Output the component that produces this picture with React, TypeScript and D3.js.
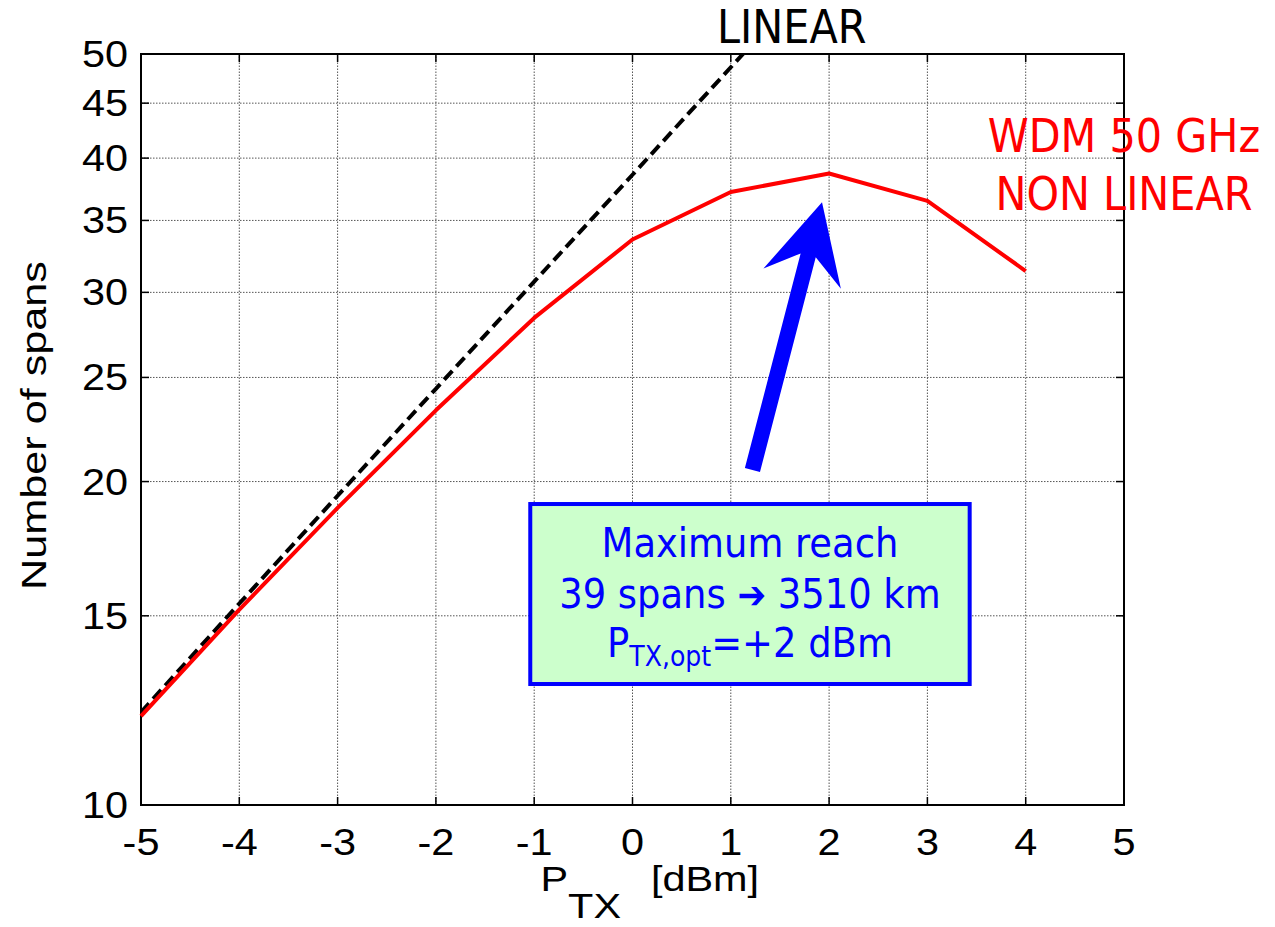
import { useEffect, useRef } from "react";
import * as d3 from "d3";

// P_TX in dBm
const powerDbm = [-5, -4, -3, -2, -1, 0, 1, 2, 3, 4];
// linear propagation (dashed) - leaves the plot above 50
const linearSpans = [12.2, 15.4, 19.4, 24.4, 30.7, 38.6, 48.6, 61.2];
// WDM 50 GHz, non linear
const wdmSpans = [12.1, 15.2, 18.9, 23.3, 28.4, 33.6, 37.2, 38.7, 36.5, 31.4];

const xTicks = [-5, -4, -3, -2, -1, 0, 1, 2, 3, 4, 5];
const yTicks = [10, 15, 20, 25, 30, 35, 40, 45, 50];

// annotation anchors, in data units
const arrowTail = { x: 1.22, y: 20.5 };
const arrowTip = { x: 1.928, y: 36.4 };
const boxExtent = { x0: -1.04, x1: 3.43, y0: 12.96, y1: 19.06 };

const ARIAL = "'Liberation Sans', Arial, Helvetica, sans-serif";
const TAHOMA = "'DejaVu Sans Condensed', 'DejaVu Sans', sans-serif";

export default function App() {
  const svgRef = useRef<SVGSVGElement>(null);

  useEffect(() => {
    if (!svgRef.current) return;
    const width = 1275;
    const height = 927;
    const margin = { top: 54, right: 151, bottom: 122, left: 141 };

    const svg = d3.select(svgRef.current);
    svg.selectAll("*").remove();
    svg.attr("width", width).attr("height", height);

    const x = d3.scaleLinear().domain([-5, 5]).range([margin.left, width - margin.right]);
    const y = d3.scaleLog().domain([10, 50]).range([height - margin.bottom, margin.top]);
    const x0 = margin.left, x1 = width - margin.right;
    const y0 = height - margin.bottom, y1 = margin.top;
    const sx = 1.12; // the source font runs wider than Liberation Sans

    svg.append("rect").attr("width", width).attr("height", height).attr("fill", "#fff");

    // grid
    const grid = svg.append("g").attr("stroke", "#555").attr("stroke-width", 1).attr("stroke-dasharray", "1.5,1.5");
    xTicks.slice(1, -1).forEach(t => {
      grid.append("line").attr("x1", x(t)).attr("x2", x(t)).attr("y1", y0).attr("y2", y1);
    });
    yTicks.slice(1, -1).forEach(t => {
      grid.append("line").attr("x1", x0).attr("x2", x1).attr("y1", y(t)).attr("y2", y(t));
    });

    // ticks (inward, all four sides)
    const ticks = svg.append("g").attr("stroke", "#000").attr("stroke-width", 1.5);
    const tl = 8;
    xTicks.forEach(t => {
      ticks.append("line").attr("x1", x(t)).attr("x2", x(t)).attr("y1", y0).attr("y2", y0 - tl);
      ticks.append("line").attr("x1", x(t)).attr("x2", x(t)).attr("y1", y1).attr("y2", y1 + tl);
    });
    yTicks.forEach(t => {
      ticks.append("line").attr("x1", x0).attr("x2", x0 + tl).attr("y1", y(t)).attr("y2", y(t));
      ticks.append("line").attr("x1", x1).attr("x2", x1 - tl).attr("y1", y(t)).attr("y2", y(t));
    });

    svg.append("rect")
      .attr("x", x0).attr("y", y1).attr("width", x1 - x0).attr("height", y0 - y1)
      .attr("fill", "none").attr("stroke", "#000").attr("stroke-width", 2);

    // tick labels
    xTicks.forEach(t => {
      svg.append("text")
        .attr("transform", `translate(${x(t)},${y0 + 50}) scale(${sx},1)`)
        .attr("text-anchor", "middle").attr("font-family", ARIAL).attr("font-size", 37)
        .text(t);
    });
    yTicks.forEach(t => {
      svg.append("text")
        .attr("transform", `translate(${x0 - 13},${y(t) + 13}) scale(${sx},1)`)
        .attr("text-anchor", "end").attr("font-family", ARIAL).attr("font-size", 37)
        .text(t);
    });

    // axis titles
    svg.append("text")
      .attr("transform", `translate(46,${(y0 + y1) / 2 - 4}) rotate(-90) scale(${sx + 0.08},1)`)
      .attr("text-anchor", "middle").attr("font-family", ARIAL).attr("font-size", 36)
      .text("Number of spans");

    const xt = svg.append("text")
      .attr("transform", `translate(${x(0) - 92},891) scale(${sx + 0.03},1)`)
      .attr("font-family", ARIAL).attr("font-size", 36);
    xt.append("tspan").text("P");
    xt.append("tspan").attr("dy", 27).text("TX");
    xt.append("tspan").attr("dy", -27).attr("dx", 26).text("[dBm]");

    // series
    const clip = svg.append("defs").append("clipPath").attr("id", "plotClip");
    clip.append("rect").attr("x", x0).attr("y", y1).attr("width", x1 - x0).attr("height", y0 - y1);

    const line = d3.line<[number, number]>().x(d => x(d[0])).y(d => y(d[1]));
    const linData = linearSpans.map((v, i) => [powerDbm[i], v] as [number, number]);
    const wdmData = wdmSpans.map((v, i) => [powerDbm[i], v] as [number, number]);

    svg.append("path")
      .datum(linData)
      .attr("clip-path", "url(#plotClip)")
      .attr("fill", "none").attr("stroke", "#000").attr("stroke-width", 4)
      .attr("stroke-dasharray", "12,6")
      .attr("d", line);

    svg.append("path")
      .datum(wdmData)
      .attr("fill", "none").attr("stroke", "#ff0000").attr("stroke-width", 4)
      .attr("stroke-linejoin", "round")
      .attr("d", line);

    // arrow
    const ax = x(arrowTail.x), ay = y(arrowTail.y);
    const bx = x(arrowTip.x), by = y(arrowTip.y);
    const len = Math.hypot(bx - ax, by - ay);
    const ux = (bx - ax) / len, uy = (by - ay) / len;
    const nx = -uy, ny = ux;
    const pt = (back: number, side: number) => [bx - ux * back + nx * side, by - uy * back + ny * side];
    const shaftHalf = 7.8;
    const arrowPts = [
      [ax + nx * shaftHalf, ay + ny * shaftHalf],
      pt(55, shaftHalf),
      pt(79, 40),
      [bx, by],
      pt(79, -40),
      pt(55, -shaftHalf),
      [ax - nx * shaftHalf, ay - ny * shaftHalf],
    ];
    svg.append("polygon")
      .attr("points", arrowPts.map(p => p.join(",")).join(" "))
      .attr("fill", "#0000ff");

    // labels
    svg.append("text")
      .attr("x", x(1.62)).attr("y", y1 - 11)
      .attr("text-anchor", "middle").attr("font-family", TAHOMA).attr("font-stretch", "condensed")
      .attr("font-size", 46).attr("fill", "#000")
      .text("LINEAR");

    [["WDM 50 GHz", 40.5], ["NON LINEAR", 35.8]].forEach(([s, v]) => {
      svg.append("text")
        .attr("x", x(5)).attr("y", y(v as number))
        .attr("text-anchor", "middle").attr("font-family", TAHOMA).attr("font-stretch", "condensed")
        .attr("font-size", 46).attr("fill", "#ff0000")
        .text(s as string);
    });

    // info box
    const bx0 = x(boxExtent.x0), bx1 = x(boxExtent.x1);
    const by0 = y(boxExtent.y1), by1 = y(boxExtent.y0);
    svg.append("rect")
      .attr("x", bx0).attr("y", by0).attr("width", bx1 - bx0).attr("height", by1 - by0)
      .attr("fill", "#ccffcc").attr("stroke", "#0000ff").attr("stroke-width", 4);
    const cx = (bx0 + bx1) / 2;
    const boxText = (dy: number) => svg.append("text")
      .attr("x", cx).attr("y", by0 + dy)
      .attr("text-anchor", "middle").attr("font-family", TAHOMA).attr("font-stretch", "condensed")
      .attr("font-size", 41).attr("fill", "#0000ff");
    boxText(53).text("Maximum reach");
    const t2 = boxText(104);
    t2.append("tspan").text("39 spans ");
    t2.append("tspan").attr("font-family", "'DejaVu Sans', sans-serif").attr("font-weight", "bold")
      .attr("font-size", 38).text("\u2794");
    t2.append("tspan").text(" 3510 km");
    const t3 = boxText(153);
    t3.append("tspan").text("P");
    t3.append("tspan").attr("font-size", 28).attr("dy", 9).text("TX,opt");
    t3.append("tspan").attr("dy", -9).text("=+2 dBm");
  }, []);

  return <svg ref={svgRef} style={{ position: "absolute", left: 0, top: 0, display: "block" }} />;
}
